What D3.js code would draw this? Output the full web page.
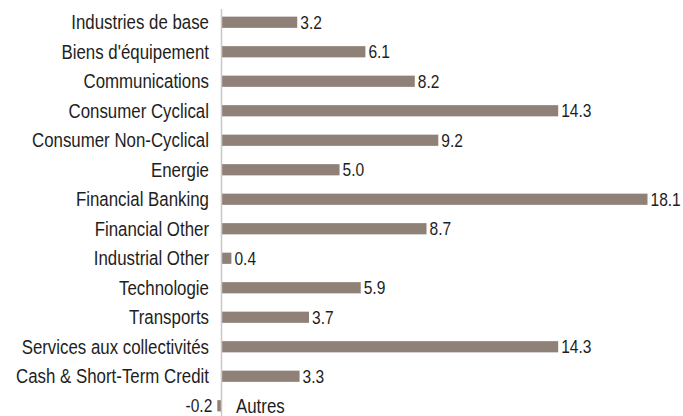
<!DOCTYPE html>
<html>
<head>
<meta charset="utf-8">
<script src="https://cdn.jsdelivr.net/npm/d3@7/dist/d3.min.js"></script>
<style>
  body { margin: 0; background: #fff; }
  text { font-family: "Liberation Sans", Arial, sans-serif; fill: #1e1e1e; }
</style>
</head>
<body>
<div id="chart"></div>
<script>
(() => {
const width = 683, height = 416;

const categories = [
  "Industries de base", "Biens d'équipement", "Communications", "Consumer Cyclical",
  "Consumer Non-Cyclical", "Energie", "Financial Banking", "Financial Other",
  "Industrial Other", "Technologie", "Transports", "Services aux collectivités",
  "Cash & Short-Term Credit", "Autres"
];
const values = [3.2, 6.1, 8.2, 14.3, 9.2, 5.0, 18.1, 8.7, 0.4, 5.9, 3.7, 14.3, 3.3, -0.2];

const data = categories.map((c, i) => ({ name: c, value: values[i] }));
const condense = 0.865; // narrow look of the original font

const svg = d3.select("#chart").append("svg")
  .attr("width", width).attr("height", height);

const x = d3.scaleLinear().domain([0, 18.1]).range([222, 647.5]);
const y = d3.scaleBand().domain(categories).range([7.5, 420.5]).paddingInner(0.62).paddingOuter(0.31);
const fmt = v => d3.format(".1f")(v).replace("−", "-");

// bars
svg.selectAll("rect.bar")
  .data(data)
  .join("rect")
  .attr("class", "bar")
  .attr("x", d => x(Math.min(0, d.value)))
  .attr("y", d => y(d.name))
  .attr("width", d => Math.abs(x(d.value) - x(0)))
  .attr("height", y.bandwidth())
  .attr("fill", "#8f8178");

// axis line
svg.append("line")
  .attr("x1", x(0) - 0.5).attr("x2", x(0) - 0.5)
  .attr("y1", 9).attr("y2", height)
  .attr("stroke", "#c8c8c8").attr("stroke-width", 1.5);

// category labels
svg.selectAll("text.cat")
  .data(data)
  .join("text")
  .attr("class", "cat")
  .attr("transform", d => {
    const tx = d.value < 0 ? x(0) + 14 : x(0) - 13;
    return `translate(${tx},${y(d.name) + y.bandwidth() / 2}) scale(${condense},1)`;
  })
  .attr("dy", "0.36em")
  .attr("text-anchor", d => d.value < 0 ? "start" : "end")
  .style("font-size", "19.5px")
  .text(d => d.name);

// value labels
svg.selectAll("text.val")
  .data(data)
  .join("text")
  .attr("class", "val")
  .attr("transform", d => {
    const tx = d.value < 0 ? x(d.value) - 5 : x(d.value) + 3;
    return `translate(${tx},${y(d.name) + y.bandwidth() / 2}) scale(${condense},1)`;
  })
  .attr("dy", "0.36em")
  .attr("text-anchor", d => d.value < 0 ? "end" : "start")
  .style("font-size", "18px")
  .text(d => fmt(d.value));
})();
</script>
</body>
</html>
